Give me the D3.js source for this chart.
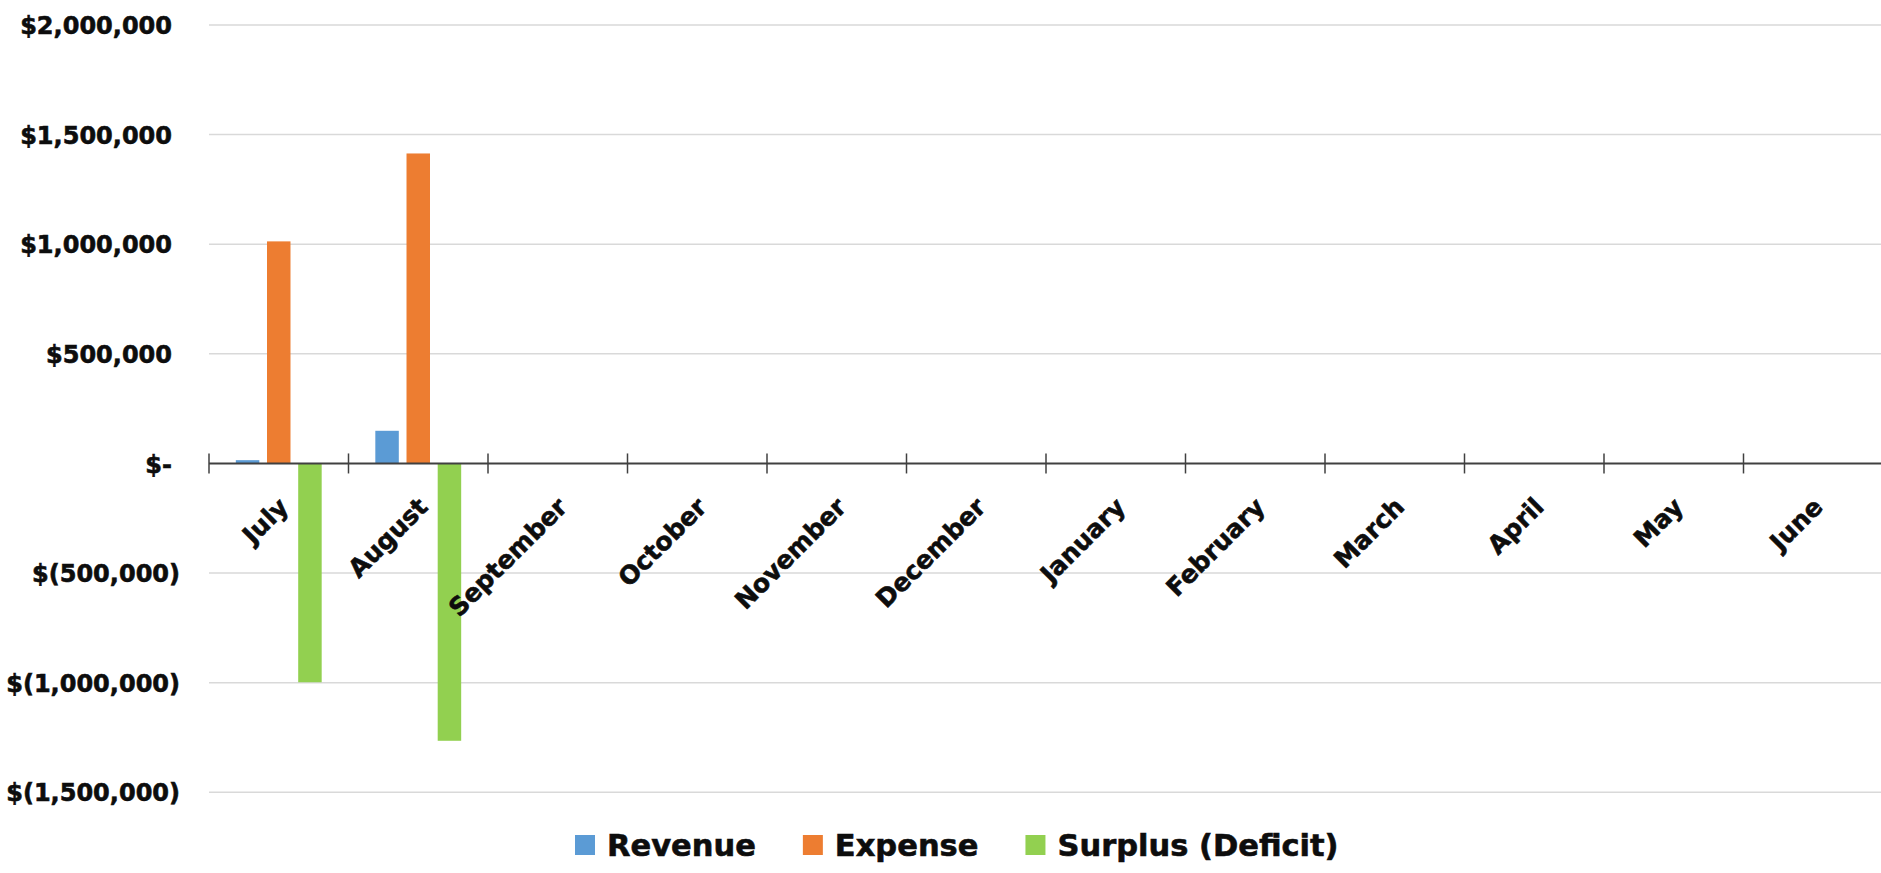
<!DOCTYPE html>
<html>
<head>
<meta charset="utf-8">
<script src="https://cdn.jsdelivr.net/npm/d3@7"></script>
<style>
  body { margin: 0; background: #fff; }
  svg { display: block; }
  text { font-family: "DejaVu Sans", sans-serif; font-weight: bold; fill: #0d0d0d;
         stroke: #0d0d0d; stroke-width: 0.6px; paint-order: stroke; }
</style>
</head>
<body>
<svg id="chart" width="1881" height="873"></svg>
<script>
// Fiscal-year months (July → June)
const months = ["July", "August", "September", "October", "November", "December",
                "January", "February", "March", "April", "May", "June"];

const seriesNames = ["Revenue", "Expense", "Surplus (Deficit)"];
const seriesColors = ["#5B9BD5", "#ED7D31", "#92D050"];

// Monthly figures in dollars; months not yet reported are null
const revenue = [15000, 149000, null, null, null, null, null, null, null, null, null, null];
const expense = [1013000, 1414000, null, null, null, null, null, null, null, null, null, null];
const surplus = [-998000, -1265000, null, null, null, null, null, null, null, null, null, null];

const yTicks = [-1500000, -1000000, -500000, 0, 500000, 1000000, 1500000, 2000000];

const seriesValues = [revenue, expense, surplus];

const svg = d3.select("#chart");
const plot = { left: 209, right: 1883, top: 25, bottom: 792.3 };

const y = d3.scaleLinear()
  .domain([-1500000, 2000000])
  .range([plot.bottom, plot.top]);

const x = d3.scaleBand()
  .domain(months)
  .range([plot.left, plot.right])
  .paddingInner(0)
  .paddingOuter(0);

const xs = d3.scaleBand()
  .domain(seriesNames)
  .range([0, x.bandwidth()])
  .paddingInner(0.247)
  .paddingOuter(0.86);

// Accounting-style dollar labels
const num = d3.format(",");
const money = v => v === 0 ? "$-" : v > 0 ? "$" + num(v) : "$(" + num(-v) + ")";

// Horizontal gridlines
svg.append("g")
  .selectAll("line")
  .data(yTicks.filter(t => t !== 0))
  .join("line")
  .attr("x1", plot.left)
  .attr("x2", plot.right)
  .attr("y1", d => y(d))
  .attr("y2", d => y(d))
  .attr("stroke", "#d9d9d9")
  .attr("stroke-width", 1.5);

// Y axis labels
const yAxis = svg.append("g")
  .attr("transform", `translate(${plot.left},0)`)
  .call(d3.axisLeft(y).tickValues(yTicks).tickFormat(money).tickSize(0));
yAxis.select(".domain").remove();
yAxis.selectAll("text")
  .attr("x", d => d < 0 ? -29 : -37)
  .attr("dy", "0.36em")
  .style("font-family", "'DejaVu Sans', sans-serif")
  .style("font-weight", "bold")
  .style("font-size", "24px")
  .style("fill", "#0d0d0d");

// Bars
const groups = svg.append("g")
  .selectAll("g")
  .data(seriesNames.map((name, i) => ({ name, color: seriesColors[i], values: seriesValues[i] })))
  .join("g")
  .attr("fill", d => d.color);

groups.selectAll("rect")
  .data(s => months.map((m, j) => ({ month: m, series: s.name, value: s.values[j] }))
                   .filter(d => d.value !== null))
  .join("rect")
  .attr("x", d => x(d.month) + xs(d.series))
  .attr("width", xs.bandwidth())
  .attr("y", d => y(Math.max(0, d.value)))
  .attr("height", d => Math.abs(y(d.value) - y(0)));

// Category axis at zero with cross tick marks at category boundaries
const y0 = y(0);
const xAxis = svg.append("g");
xAxis.append("line")
  .attr("x1", plot.left)
  .attr("x2", plot.right)
  .attr("y1", y0)
  .attr("y2", y0)
  .attr("stroke", "#404040")
  .attr("stroke-width", 2);

const boundaries = months.map(m => x(m)).concat([x.range()[1]]);
xAxis.selectAll("line.tick")
  .data(boundaries)
  .join("line")
  .attr("class", "tick")
  .attr("x1", d => d)
  .attr("x2", d => d)
  .attr("y1", y0 - 10)
  .attr("y2", y0 + 10)
  .attr("stroke", "#404040")
  .attr("stroke-width", 1.5);

xAxis.selectAll("text")
  .data(months)
  .join("text")
  .attr("transform", d => `translate(${x(d) + x.bandwidth() / 2 + 11},${y0 + 45}) rotate(-45)`)
  .attr("text-anchor", "end")
  .style("font-size", "25px")
  .text(d => d);

// Legend: swatch, label, then the next entry
const legend = svg.append("g").attr("transform", "translate(0,845)");
const items = legend.selectAll("g")
  .data(seriesNames.map((name, i) => ({ name, color: seriesColors[i] })))
  .join("g");
items.append("rect")
  .attr("width", 20)
  .attr("height", 20)
  .attr("y", -10)
  .attr("fill", d => d.color);
items.append("text")
  .attr("x", 32)
  .attr("dy", "0.36em")
  .style("font-size", "30.5px")
  .text(d => d.name);

const widths = [];
items.each(function () {
  widths.push(32 + this.querySelector("text").getComputedTextLength());
});
const gap = 47;
let cursor = 575;
items.attr("transform", (d, i) => {
  const t = `translate(${cursor},0)`;
  cursor += widths[i] + gap;
  return t;
});
</script>
</body>
</html>
